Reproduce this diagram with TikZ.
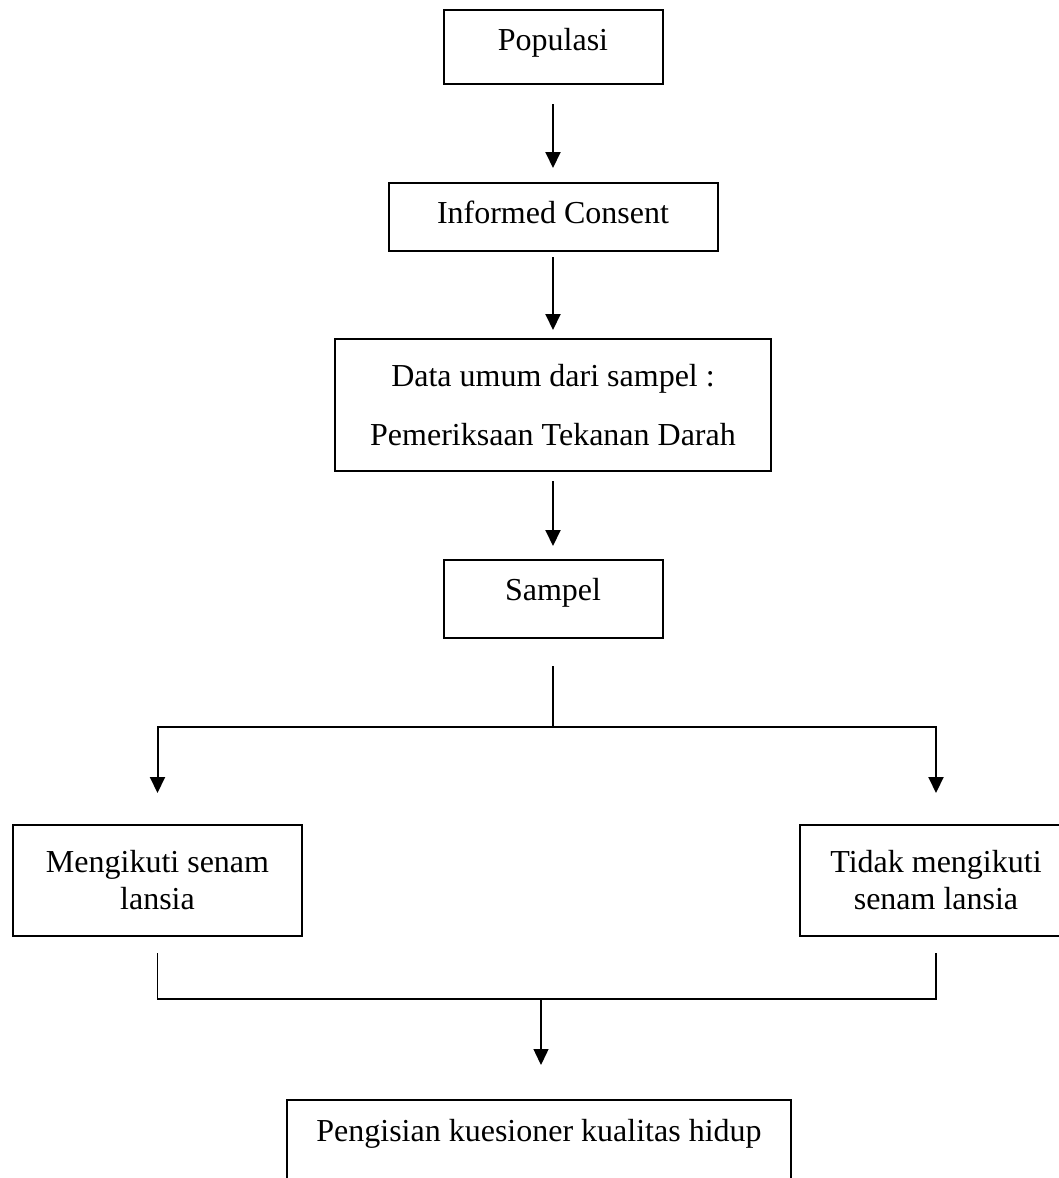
\documentclass[tikz,border=0pt]{standalone}
\usepackage{fontspec}
\setmainfont{Liberation Serif}
\usetikzlibrary{arrows.meta}

\tikzset{
  box/.style={draw, line width=1pt, anchor=north, inner xsep=0pt, inner ysep=0pt,
              font=\fontsize{16}{18.5}\selectfont, align=center},
  arr/.style={-{Triangle[length=8pt,width=7.5pt]}, line width=1pt},
  conn/.style={line width=0.7pt},
}

\begin{document}
\begin{tikzpicture}[x=0.5pt,y=-0.5pt]
        \clip (0,0) rectangle (1059,1178);
        \node[box, minimum width=109.5pt, text height=20pt, text depth=17pt] (pop) at (553,9) {Populasi};
        \node[box, minimum width=164.5pt, text height=20pt, text depth=14pt] (inf) at (553,182) {Informed Consent};
        \node[box, minimum width=218pt, minimum height=66pt] (data) at (553,338) {Data umum dari sampel :\\[11pt]Pemeriksaan Tekanan Darah};
        \node[box, minimum width=109.5pt, text height=20pt, text depth=19pt] (samp) at (553,559) {Sampel};
        \node[box, minimum width=144.5pt, minimum height=55.5pt] (ikut) at (157.5,824) {Mengikuti senam\\lansia};
        \node[box, minimum width=136pt, minimum height=55.5pt] (tidak) at (936,824) {Tidak mengikuti\\senam lansia};
        \node[box, minimum width=252pt, text height=20.5pt, text depth=40pt] (isi) at (539,1099) {Pengisian kuesioner kualitas hidup};
        \coordinate (fork) at (553,727);
        \coordinate (join) at (541,999);
        \draw[arr, shorten <=9.5pt, shorten >=7pt] (pop) -- (inf);     % populasi - consent
        \draw[arr, shorten <=2.5pt, shorten >=4pt] (inf) -- (data);    % consent - data
        \draw[arr, shorten <=4.5pt, shorten >=6.5pt] (data) -- (samp); % data - sampel
        \draw[conn, shorten <=13.5pt] (samp) -- (fork);
        \draw[arr, shorten >=15.5pt] (fork) -| (ikut);
        \draw[arr, shorten >=15.5pt] (fork) -| (tidak);
        \draw[conn, shorten <=8pt] (ikut) |- (join);
        \draw[conn, shorten <=8pt] (tidak) |- (join);
        \draw[arr, line width=0.7pt, shorten >=17pt] (join) -- (join |- isi.north);
    \end{tikzpicture}
\end{document}
